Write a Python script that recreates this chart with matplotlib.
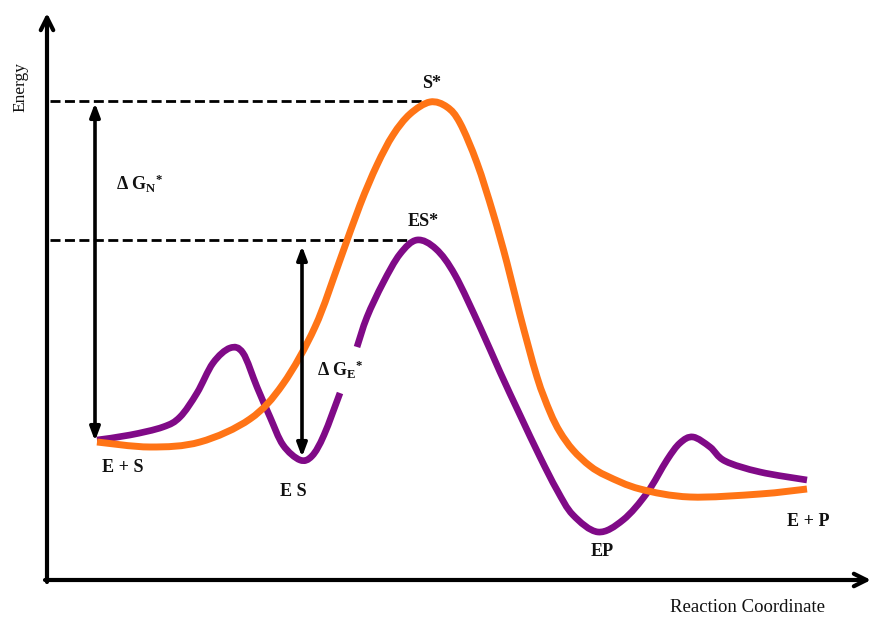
import numpy as np
import matplotlib
matplotlib.use("Agg")
import matplotlib.pyplot as plt
from matplotlib.path import Path
from matplotlib.patches import PathPatch

plt.rcParams['mathtext.fontset'] = 'custom'
plt.rcParams['mathtext.rm'] = 'Liberation Serif:bold'
plt.rcParams['mathtext.bf'] = 'Liberation Serif:bold'
plt.rcParams['mathtext.it'] = 'Liberation Serif:bold'

# ---- data (reaction coordinate x, energy read as picture rows; smaller = higher energy)
orange_x = [97, 150, 200, 250, 283, 315, 340, 360, 377, 393, 410, 430, 447, 460, 477, 493,
            507, 520, 537, 550, 560, 573, 590, 607, 640, 690, 760, 807]
orange_y = [442, 447, 442, 419, 384, 327, 260, 205, 165, 135, 114, 102, 107, 123, 163, 213,
            263, 315, 377, 412, 432, 450, 466, 476, 489, 497, 494, 489]

purple_x = [97, 130, 163, 180, 197, 213, 230, 243, 257, 270, 283, 300, 312, 324, 340, np.nan,
            357, 367, 383, 400, 417, 436, 455, 480, 500, 520, 540, 557, 573, 598, 623,
            647, 667, 680, 693, 710, 725, 760, 807]
purple_y = [440, 435, 427, 417, 393, 363, 348, 353, 387, 417, 445, 460, 456, 435, 393, np.nan,
            347, 317, 283, 254, 240, 249, 275, 327, 372, 415, 457, 490, 515, 532, 520,
            493, 460, 443, 437, 447, 461, 472, 480]

state_labels = ["S*", "ES*", "E + S", "E S", "EP", "E + P"]
state_pos = [(432, 83), (423, 222), (123, 467), (293, 492), (602, 551), (808, 522)]

level_S = 101     # top of uncatalysed barrier
level_ES = 240    # top of catalysed barrier
level_start = 441
level_ESmin = 457

fig = plt.figure(figsize=(8.73, 6.19), dpi=100)
ax = fig.add_axes([0, 0, 1, 1])
ax.set_xlim(0, 873)
ax.set_ylim(619, 0)
ax.axis('off')

orange = '#ff7416'
purple = '#800a87'


def smooth_path(xs, ys):
    """Catmull-Rom through the read points, as cubic Bezier path (drawing only)."""
    xs = np.asarray(xs, float)
    ys = np.asarray(ys, float)
    verts, codes = [], []
    seg = []
    segs = []
    for x, y in zip(xs, ys):
        if np.isnan(x):
            if seg:
                segs.append(seg)
            seg = []
        else:
            seg.append((x, y))
    if seg:
        segs.append(seg)
    for s in segs:
        p = np.array(s)
        n = len(p)
        verts.append(p[0]); codes.append(Path.MOVETO)
        for i in range(n - 1):
            p0 = p[i - 1] if i > 0 else p[i]
            p1 = p[i]
            p2 = p[i + 1]
            p3 = p[i + 2] if i + 2 < n else p[i + 1]
            c1 = p1 + (p2 - p0) / 6.0
            c2 = p2 - (p3 - p1) / 6.0
            verts += [c1, c2, p2]
            codes += [Path.CURVE4] * 3
    return Path(verts, codes)


ax.add_patch(PathPatch(smooth_path(purple_x, purple_y), fill=False, edgecolor=purple, lw=4.8,
                       capstyle='butt', joinstyle='round', zorder=3))
ax.add_patch(PathPatch(smooth_path(orange_x, orange_y), fill=False, edgecolor=orange, lw=5.0,
                       capstyle='butt', joinstyle='round', zorder=4))

# axes arrows
ax.annotate('', xy=(47, 13), xytext=(47, 582),
            arrowprops=dict(arrowstyle='->,head_length=0.9,head_width=0.45', lw=3, color='black',
                            shrinkA=0, shrinkB=0))
ax.annotate('', xy=(871, 580), xytext=(45, 580),
            arrowprops=dict(arrowstyle='->,head_length=0.9,head_width=0.45', lw=3, color='black',
                            shrinkA=0, shrinkB=0))

# dashed levels
ax.plot([50, 428], [level_S, level_S], color='black', lw=2, dashes=(3.6, 1.6), zorder=2)
ax.plot([50, 410], [level_ES, level_ES], color='black', lw=2, dashes=(3.6, 1.6), zorder=2)

# delta G arrows
ax.annotate('', xy=(95, level_S + 2), xytext=(95, level_start),
            arrowprops=dict(arrowstyle='<|-|>,head_length=0.8,head_width=0.3', lw=2.6, color='black',
                            shrinkA=0, shrinkB=0), zorder=5)
ax.annotate('', xy=(302, level_ES + 6), xytext=(302, level_ESmin),
            arrowprops=dict(arrowstyle='<|-|>,head_length=0.8,head_width=0.3', lw=2.6, color='black',
                            shrinkA=0, shrinkB=0), zorder=5)

serif = ['Liberation Serif', 'DejaVu Serif']
for lab, (x, y) in zip(state_labels, state_pos):
    ax.text(x, y, lab, ha='center', va='center', fontsize=13, fontweight='bold',
            family=serif, color='#111111')

ax.text(116, 184, 'Δ G$_{\\mathrm{N}}{}^{*}$', ha='left', va='center', fontsize=13,
        fontweight='bold', family=serif, color='#111111')
ax.text(317, 370, 'Δ G$_{\\mathrm{E}}{}^{*}$', ha='left', va='center', fontsize=13,
        fontweight='bold', family=serif, color='#111111')

ax.text(20, 87, 'Energy', rotation=90, ha='center', va='center', fontsize=12.5,
        family=serif, color='#111111')
ax.text(748, 607, 'Reaction Coordinate', ha='center', va='center', fontsize=13.5,
        family=serif, color='#111111')

fig.savefig('out.png', dpi=100)
